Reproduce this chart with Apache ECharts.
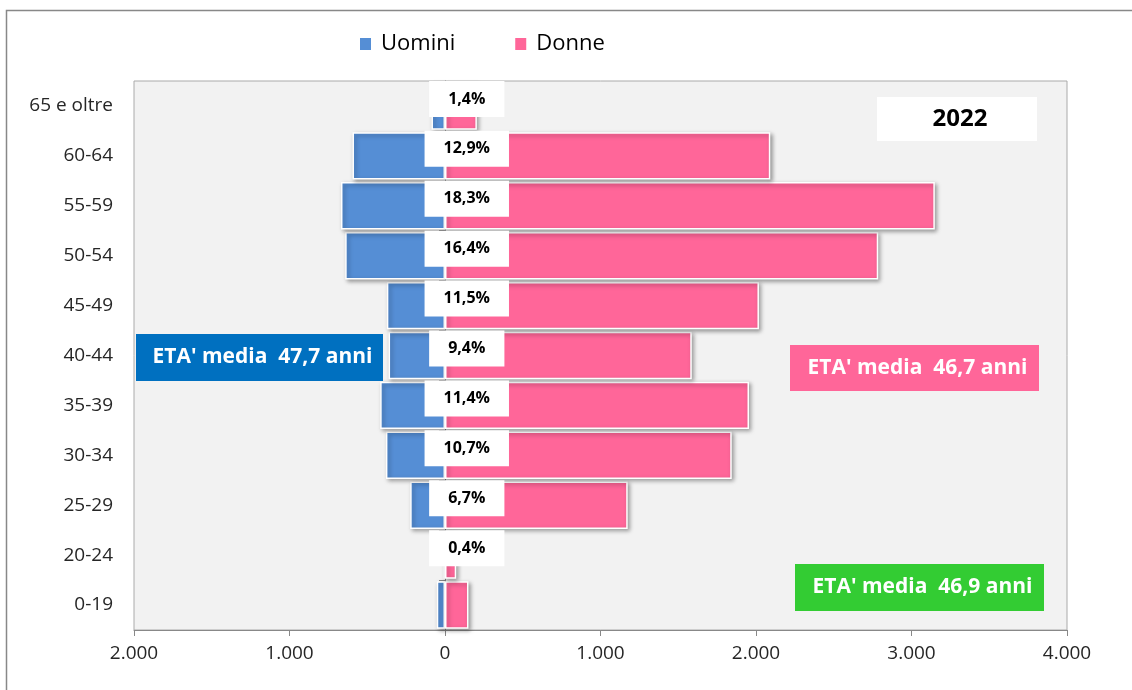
<!DOCTYPE html>
<html>
<head>
<meta charset="utf-8">
<script src="https://cdn.jsdelivr.net/npm/echarts@6/dist/echarts.min.js"></script>
<style>
  html, body { margin: 0; padding: 0; background: #fff; }
  #chart { width: 1132px; height: 690px; }
</style>
</head>
<body>
<div id="chart"></div>
<script>
// fasce d'età (dal basso verso l'alto)
const classi = ['0-19', '20-24', '25-29', '30-34', '35-39', '40-44', '45-49', '50-54', '55-59', '60-64', '65 e oltre'];
const uomini = [53, 10, 224, 380, 417, 363, 374, 642, 669, 595, 87];
const donne = [151, 72, 1175, 1844, 1955, 1587, 2019, 2786, 3150, 2092, 205];
const quote = [null, '0,4%', '6,7%', '10,7%', '11,4%', '9,4%', '11,5%', '16,4%', '18,3%', '12,9%', '1,4%'];
const xTicks = [-2000, 4000, 1000];
const anno = '2022';
const etaUomini = "ETA' media  47,7 anni";
const etaDonne = "ETA' media  46,7 anni";
const etaTotale = "ETA' media  46,9 anni";

const font = '"Open Sans", "Noto Sans", sans-serif';
const chart = echarts.init(document.getElementById('chart'));

const barStyle = (c) => ({
  color: c,
  borderColor: '#fff',
  borderWidth: 1.5,
  shadowColor: 'rgba(0,0,0,0.35)',
  shadowBlur: 4,
  shadowOffsetX: 2,
  shadowOffsetY: 2
});

const box = (x, y, w, h, fill, txt, size, color) => ({
  type: 'group',
  left: x, top: y,
  children: [
    { type: 'rect', shape: { x: 0, y: 0, width: w, height: h }, style: { fill: fill } },
    { type: 'text', x: w / 2 + 3, y: h / 2,
      style: { text: txt, fill: color, font: 'bold ' + size + 'px ' + font, align: 'center', verticalAlign: 'middle' } }
  ]
});

const option = {
  animation: false,
  textStyle: { fontFamily: font },
  legend: {
    data: ['Uomini', 'Donne'],
    left: 358, top: 33,
    padding: 0,
    icon: 'rect',
    itemWidth: 13, itemHeight: 14,
    itemGap: 58,
    textStyle: { fontSize: 22, color: '#000', fontFamily: font, padding: [0, 0, 0, 4] }
  },
  grid: {
    left: 134, right: 65, top: 81, bottom: 60,
    show: true,
    backgroundColor: '#F2F2F2',
    borderColor: '#aaa',
    borderWidth: 1
  },
  xAxis: {
    type: 'value',
    min: xTicks[0], max: xTicks[1], interval: xTicks[2],
    splitLine: { show: false },
    axisLine: { show: true, lineStyle: { color: '#888' } },
    axisTick: { show: true, length: 6, lineStyle: { color: '#888' } },
    axisLabel: {
      fontSize: 19, color: '#262626', margin: 14, fontFamily: font,
      formatter: v => Math.abs(v).toString().replace(/\B(?=(\d{3})+(?!\d))/g, '.')
    }
  },
  yAxis: [
    {
      type: 'category',
      data: classi,
      axisLine: { show: false, onZero: false },
      axisTick: { show: false },
      axisLabel: { fontSize: 19, color: '#262626', margin: 21, fontFamily: font }
    },
    {
      type: 'category',
      data: classi,
      axisLine: { show: true, onZero: true, lineStyle: { color: '#888' } },
      axisTick: { show: true, length: 6, inside: true, lineStyle: { color: '#888' } },
      axisLabel: { show: false }
    }
  ],
  series: [
    {
      name: 'Uomini',
      type: 'bar',
      data: uomini.map(v => -v),
      barGap: '-100%',
      barCategoryGap: '5%',
      itemStyle: barStyle('#558ED5')
    },
    {
      name: 'Donne',
      type: 'bar',
      data: donne,
      barCategoryGap: '5%',
      itemStyle: barStyle('#FF6699')
    },
    {
      name: 'quota',
      type: 'scatter',
      symbolSize: 1,
      itemStyle: { color: 'transparent', opacity: 1 },
      z: 10,
      silent: true,
      data: quote.map((q, i) => q ? [140, i, q] : null).filter(d => d),
      label: {
        show: true,
        position: 'inside',
        offset: [0, -7],
        formatter: p => p.data[2],
        backgroundColor: '#fff',
        padding: [10, 19],
        fontSize: 16,
        fontWeight: 'bold',
        color: '#000',
        fontFamily: font
      }
    }
  ],
  graphic: [
    { type: 'rect', left: 4, top: 8, shape: { width: 1140, height: 700 }, style: { fill: 'none', stroke: '#888', lineWidth: 1.5 }, z: -10 },
    box(877, 97, 160, 44, '#fff', anno, 24, '#000'),
    box(136, 334, 247, 47, '#0070C0', etaUomini, 21, '#fff'),
    box(790, 345, 249, 46, '#FF6699', etaDonne, 21, '#fff'),
    box(795, 564, 249, 47, '#33CC33', etaTotale, 21, '#fff')
  ]
};

chart.setOption(option);
</script>
</body>
</html>
